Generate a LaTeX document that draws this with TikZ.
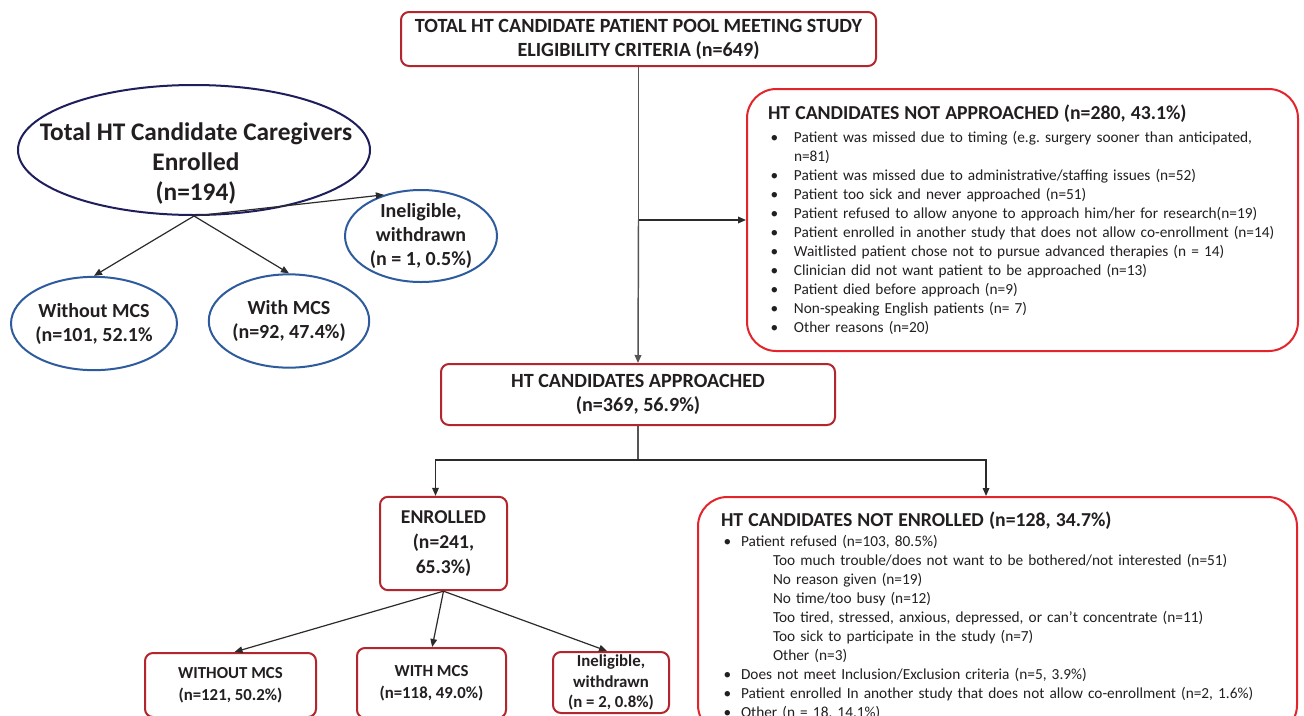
\documentclass[tikz,border=0pt]{standalone}
\usepackage{fontspec}
\setmainfont{Carlito}
\usetikzlibrary{arrows.meta,shapes.geometric}
\definecolor{ink}{HTML}{231F20}
\definecolor{wire}{HTML}{2B2B2B}
\definecolor{stem}{HTML}{555555}
\definecolor{darkred}{HTML}{B3262D}
\definecolor{brightred}{HTML}{E3242B}
\definecolor{navy}{HTML}{1F1E5C}
\definecolor{steel}{HTML}{2E5B9E}
\newcommand{\itm}[2][19.5pt]{\makebox[#1][l]{\hspace{2pt}\textbullet}#2}

\begin{document}
\frenchspacing
\begin{tikzpicture}[x=.75pt,y=-.75pt,
  box/.style={draw=darkred,line width=1.5pt,rounded corners=6pt,text=ink,
    font=\bfseries\fontsize{15.1}{18}\selectfont,align=center,inner sep=0pt},
  listbox/.style={draw=brightred,line width=1.5pt,rounded corners=22pt,text=ink,align=left},
  oval/.style={ellipse,draw=steel,line width=1.5pt,inner sep=0pt,text=ink,
    font=\bfseries\fontsize{15}{18}\selectfont,align=center},
  flow/.style={draw=wire,line width=.9pt,-{Triangle[length=6pt,width=5pt]}},
  stemline/.style={draw=stem,line width=1.1pt}
]
\clip (0,0) rectangle (1304,715);
\fill[white] (0,0) rectangle (1304,715);

% patient flow
\node[box,minimum width=356.25pt,minimum height=40.5pt] (pool) at (638.5,39)
  {TOTAL HT CANDIDATE PATIENT POOL MEETING STUDY\\ELIGIBILITY CRITERIA (n=649)};
\node[listbox,minimum width=413.25pt,minimum height=196.5pt,text width=381.75pt,
  inner xsep=15.75pt,font=\fontsize{11.5}{14.25}\selectfont] (notappr) at (1022.5,220)
  {{\bfseries\fontsize{14.8}{16}\selectfont HT CANDIDATES NOT APPROACHED (n=280, 43.1\%)}\\[3pt]
   \itm{Patient was missed due to timing (e.g. surgery sooner than anticipated,}\\
   \hspace*{19.5pt}n=81)\\
   \itm{Patient was missed due to administrative/staffing issues (n=52)}\\
   \itm{Patient too sick and never approached (n=51)}\\
   \itm{Patient refused to allow anyone to approach him/her for research(n=19)}\\
   \itm{Patient enrolled in another study that does not allow co-enrollment (n=14)}\\
   \itm{Waitlisted patient chose not to pursue advanced therapies (n = 14)}\\
   \itm{Clinician did not want patient to be approached (n=13)}\\
   \itm{Patient died before approach (n=9)}\\
   \itm{Non-speaking English patients (n= 7)}\\
   \itm{Other reasons (n=20)}};
\node[box,minimum width=295.5pt,minimum height=45.75pt] (appr) at (638,394.5)
  {HT CANDIDATES APPROACHED\\(n=369, 56.9\%)};
\node[box,minimum width=95.25pt,minimum height=70pt,
  font=\bfseries\fontsize{14.7}{18.75}\selectfont] (enr) at (443.5,543.5)
  {ENROLLED\\(n=241,\\65.3\%)};
\node[listbox,anchor=north,minimum width=449.25pt,text width=414.75pt,
  inner xsep=17.25pt,inner ysep=11pt,font=\fontsize{11.5}{14.25}\selectfont] (notenr) at (997.5,496)
  {{\bfseries\fontsize{14.8}{16}\selectfont HT CANDIDATES NOT ENROLLED (n=128, 34.7\%)}\\[1pt]
   \itm[15pt]{Patient refused (n=103, 80.5\%)}\\
   \hspace*{39pt}Too much trouble/does not want to be bothered/not interested (n=51)\\
   \hspace*{39pt}No reason given (n=19)\\
   \hspace*{39pt}No time/too busy (n=12)\\
   \hspace*{39pt}Too tired, stressed, anxious, depressed, or can’t concentrate (n=11)\\
   \hspace*{39pt}Too sick to participate in the study (n=7)\\
   \hspace*{39pt}Other (n=3)\\
   \itm[15pt]{Does not meet Inclusion/Exclusion criteria (n=5, 3.9\%)}\\
   \itm[15pt]{Patient enrolled In another study that does not allow co-enrollment (n=2, 1.6\%)}\\
   \itm[15pt]{Other (n = 18, 14.1\%)}};
\node[box,minimum width=128.25pt,minimum height=48pt,
  font=\bfseries\fontsize{12.6}{16.5}\selectfont] (womcs) at (230.5,685)
  {WITHOUT MCS\\(n=121, 50.2\%)};
\node[box,minimum width=111.75pt,minimum height=52.5pt,
  font=\bfseries\fontsize{12.6}{16.5}\selectfont] (wmcs) at (431.5,683)
  {WITH MCS\\(n=118, 49.0\%)};
\node[box,minimum width=87pt,minimum height=45.75pt,
  font=\bfseries\fontsize{12.6}{15.4}\selectfont] (inel) at (611,682.5)
  {Ineligible,\\withdrawn\\(n = 2, 0.8\%)};

\coordinate (split) at (pool.south |- notappr.west);
\coordinate (fork) at (638,460);
\draw[stemline] (pool.south) -- (split);
\draw[stemline,-{Triangle[length=6pt,width=5pt]}] (split) -- (appr.north);
\draw[flow] (split) -- (notappr.west);
\draw[stemline] (appr.south) -- (fork);
\draw[flow] (fork) -| ([xshift=-6pt]enr.north);
\draw[flow] (fork) -| ([xshift=-8.6pt]notenr.north);
\draw[flow] (enr.south) -- ([xshift=3pt]womcs.north);
\draw[flow] (enr.south) -- ([xshift=.5pt]wmcs.north);
\draw[flow] (enr.south) -- ([xshift=-3pt]inel.north);

% caregivers
\node[oval,draw=navy,minimum width=264pt,minimum height=97.5pt] (cgpool) at (194,150) {};
\node[text=ink,font=\bfseries\fontsize{19}{22.5}\selectfont,align=center] (cgtext) at (196,164)
  {Total HT Candidate Caregivers\\Enrolled\\(n=194)};
\node[oval,minimum width=114pt,minimum height=65.25pt] (cginel) at (421,236)
  {Ineligible,\\withdrawn\\(n = 1, 0.5\%)};
\node[oval,minimum width=114pt,minimum height=70pt] (cgwo) at (94,323.5)
  {Without MCS\\(n=101, 52.1\%};
\node[oval,minimum width=114pt,minimum height=70pt] (cgw) at (289,321)
  {With MCS\\(n=92, 47.4\%)};
\draw[flow] (cgpool.south) -- (cgwo.north);
\draw[flow] (cgpool.south) -- (cgw.north);
\draw[flow] (cgpool.south) -- (cginel.132);
\end{tikzpicture}
\end{document}
